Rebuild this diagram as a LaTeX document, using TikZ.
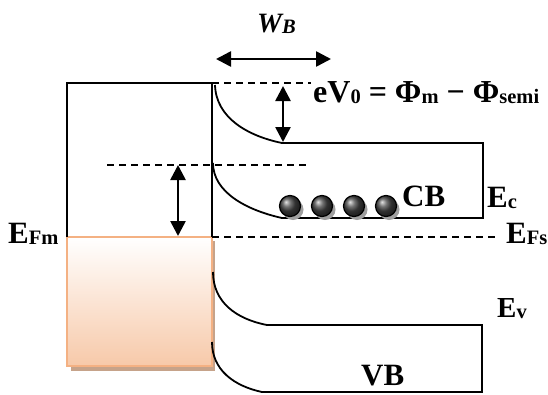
\documentclass[tikz,border=0pt]{standalone}
\usepackage{fontspec}
\setmainfont{Liberation Serif}
\usetikzlibrary{arrows.meta,shadings}
\definecolor{orng}{HTML}{F4B183}
\definecolor{orngfill}{HTML}{F7C9A9}
\definecolor{shad}{HTML}{C6A38A}
\newcommand\lsub[1]{\raisebox{-1.5pt}{\fontsize{20.5}{21}\selectfont #1}}
\begin{document}
\begin{tikzpicture}[x=1pt,y=-1pt,
  band/.style={line width=1.8pt, black},
  lvl/.style={line width=1.6pt, dash pattern=on 7pt off 5pt},
  dbl/.style={line width=2.6pt, {Triangle[length=15pt,width=15pt]}-{Triangle[length=15pt,width=15pt]}},
  lab/.style={inner sep=0pt, anchor=base west, font=\fontsize{31}{32}\selectfont\bfseries},
]
\useasboundingbox (0,0) rectangle (548,394);
% metal
\fill[shad] (71,241) rectangle (215,371);
\shade[top color=white, bottom color=orngfill] (67,237) rectangle (212,366);
\draw[orng, line width=2.2pt] (67,237) rectangle (212,366);
\coordinate (mbl) at (67,237);
\coordinate (mtl) at (67,83);
\coordinate (mtr) at (212,83);
\coordinate (mbr) at (212,237);
\draw[band] (mbl) -- (mtl) -- (mtr) -- (mbr);
% levels
\coordinate (t0) at (200,83);  \coordinate (t1) at (311,83);
\coordinate (m0) at (107,165); \coordinate (m1) at (310,165);
\coordinate (f0) at (212,237); \coordinate (f1) at (495,237);
\draw[lvl] (t0) -- (t1);
\draw[lvl] (m0) -- (m1);
\draw[lvl] (f0) -- (f1);
% conduction band
\coordinate (c1) at (215,85);  \coordinate (c2) at (282,143);
\coordinate (c3) at (483,143); \coordinate (c4) at (483,218);
\coordinate (c5) at (282,218); \coordinate (c6) at (213,163);
\draw[band] (c1) .. controls (216,118) and (248,136) .. (c2) -- (c3) -- (c4) -- (c5)
  .. controls (246,210) and (213,192) .. (c6);
% valence band
\coordinate (v1) at (213,272); \coordinate (v2) at (267,325);
\coordinate (v3) at (482,325); \coordinate (v4) at (482,392);
\coordinate (v5) at (262,392); \coordinate (v6) at (212,342);
\draw[band] (v1) .. controls (213,302) and (236,319) .. (v2) -- (v3) -- (v4) -- (v5)
  .. controls (234,386) and (212,370) .. (v6);
% arrows
\coordinate (w0) at (216,59); \coordinate (w1) at (331,59);
\draw[dbl] (w0) -- (w1);
\coordinate (e0) at (283,86); \coordinate (e1) at (283,142);
\draw[dbl] (e0) -- (e1);
\coordinate (p0) at (178,165); \coordinate (p1) at (178,236);
\draw[dbl] (p0) -- (p1);
% electrons
\foreach \x/\n in {290/a,322/b,354/c,386/d}{
  \fill[gray!75] (\x+3,209.5) circle (10.5pt);
  \shade[ball color=gray!55!black] (\x,206) circle (10.5pt);
  \draw[line width=1.2pt] (\x,206) circle (10.5pt);
  \coordinate (el\n) at (\x,206);
}
% labels
\node[lab] (wb) at (257,32) {\fontsize{28}{29}\selectfont\itshape W\lsub{B}};
\node[lab] (ev) at (313,102) {\fontsize{32}{33}\selectfont eV\lsub{0} = Φ\lsub{m} − Φ\lsub{semi}};
\node[lab] (efm) at (8,243) {E\lsub{Fm}};
\node[lab] (efs) at (506,243) {E\lsub{Fs}};
\node[lab] (ec) at (487,207) {E\lsub{c}};
\node[lab] (evv) at (497,317) {\fontsize{29}{30}\selectfont E\lsub{v}};
\node[lab] (cb) at (402,206) {CB};
\node[lab] (vb) at (361,385) {VB};
\end{tikzpicture}
\end{document}
